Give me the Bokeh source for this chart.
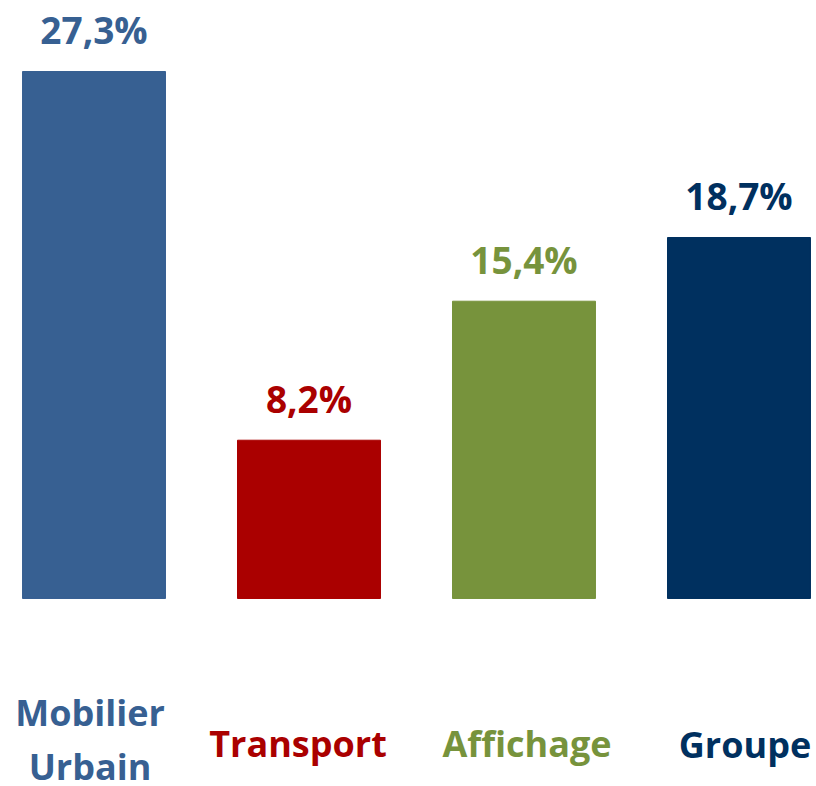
from bokeh.plotting import figure
from bokeh.models import ColumnDataSource, Range1d
from bokeh.core.properties import value
from bokeh.embed import file_html
from bokeh.resources import INLINE

categories = ["Mobilier\nUrbain", "Transport", "Affichage", "Groupe"]
values = [27.3, 8.2, 15.4, 18.7]
colors = ["#376092", "#AA0000", "#77933C", "#00305F"]

# label nudges in screen pixels (style only)
label_dx = [-4, -11, 3, 6]
label_dy = [141, 145, 145, 146]

xs = list(range(len(categories)))
value_labels = [f"{v:.1f}".replace(".", ",") + "%" for v in values]

src = ColumnDataSource(dict(x=xs, top=values, color=colors,
                            vlabel=value_labels, cat=categories,
                            base=[0] * len(values), dx=label_dx, dy=label_dy))

p = figure(width=816, height=786, output_backend="svg", toolbar_location=None,
           x_range=Range1d(-0.4349, 3.3605), y_range=Range1d(-9.739, 30.978),
           min_border=0, min_border_left=0, min_border_right=0,
           min_border_top=0, min_border_bottom=0)
p.axis.visible = False
p.grid.visible = False
p.outline_line_color = None
p.background_fill_color = "white"
p.border_fill_color = "white"

p.vbar(x="x", top="top", bottom=0, width=0.665, color="color", source=src)

p.text(x="x", y="top", text="vlabel", text_color="color", source=src,
       text_font=value("Open Sans"), text_font_style="bold",
       text_font_size="37px", text_align="center",
       text_baseline="alphabetic", y_offset=-42)

p.text(x="x", y="base", text="cat", text_color="color", source=src,
       text_font=value("Open Sans"), text_font_style="bold",
       text_font_size="36px", text_align="center",
       text_baseline="middle", text_line_height=1.1,
       x_offset="dx", y_offset="dy")

open("out.html", "w").write(file_html(p, INLINE))
